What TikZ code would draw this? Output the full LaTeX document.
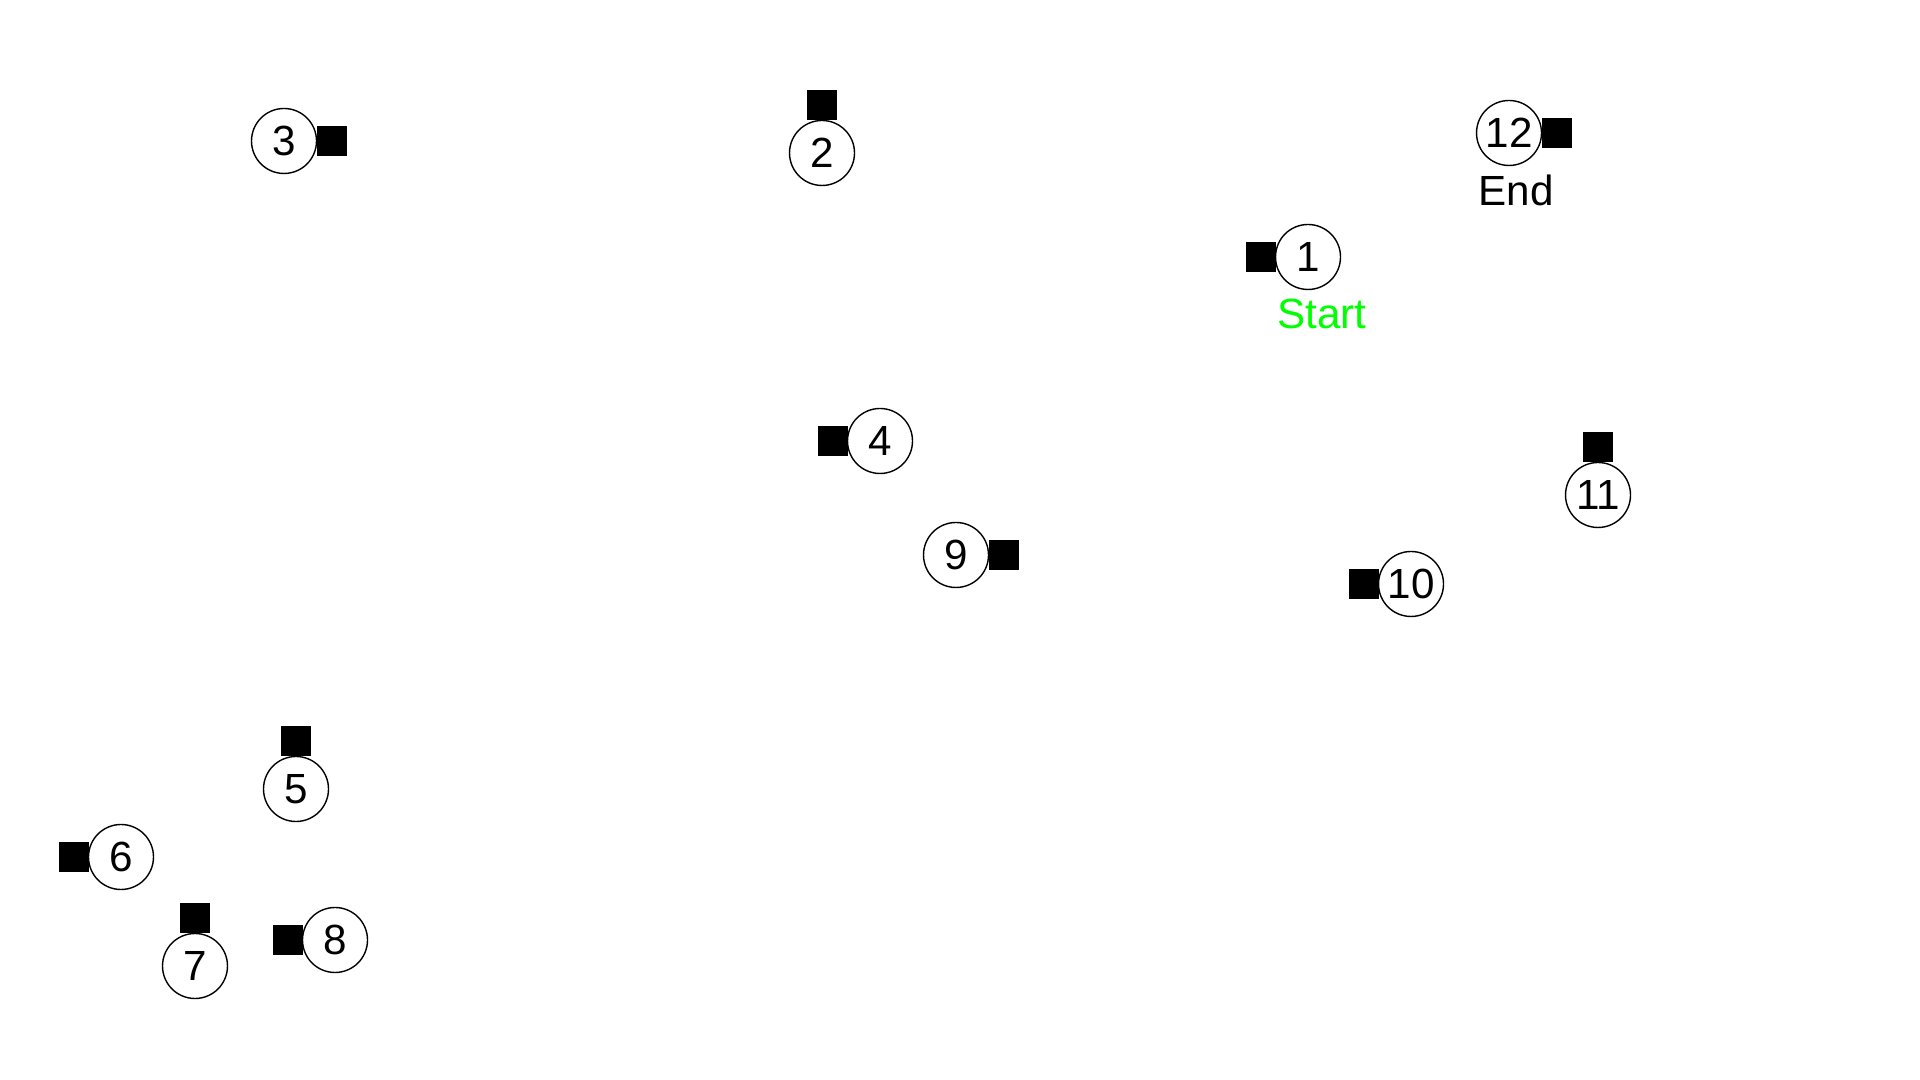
\documentclass[tikz,border=0pt]{standalone}
\usepackage{fontspec}
\setmainfont{Liberation Sans}
\usetikzlibrary{positioning}
\definecolor{startGreen}{RGB}{0,255,0}

\begin{document}
\begin{tikzpicture}[node distance=0pt]
\tikzstyle{stop}=[draw, circle, line width=0.4pt, inner sep=0pt, outer sep=0pt, minimum size=0.65cm, font=\fontsize{12pt}{14pt}\selectfont]
\tikzstyle{pad}=[fill=black, inner sep=0pt, outer sep=0pt, minimum size=0.30cm]
\tikzstyle{tag}=[inner sep=0pt, font=\fontsize{12pt}{14pt}\selectfont]
\useasboundingbox (0,0) rectangle (19.2,10.8);
% stops
\node[stop] (n1) at (13.08,8.23) {1};
\node[stop] (n2) at (8.22,9.27) {2};
\node[stop] (n3) at (2.84,9.39) {3};
\node[stop] (n4) at (8.80,6.39) {4};
\node[stop] (n5) at (2.96,2.91) {5};
\node[stop] (n6) at (1.21,2.23) {6};
\node[stop] (n7) at (1.95,1.14) {7};
\node[stop] (n8) at (3.35,1.40) {8};
\node[stop] (n9) at (9.56,5.25) {9};
\node[stop] (n10) at (14.11,4.96) {10};
\node[stop] (n11) at (15.98,5.85) {11};
\node[stop] (n12) at (15.09,9.47) {12};
% pads next to each stop
\node[pad, left=of n1] (p1) {};
\node[pad, above=of n2] (p2) {};
\node[pad, right=of n3] (p3) {};
\node[pad, left=of n4] (p4) {};
\node[pad, above=of n5] (p5) {};
\node[pad, left=of n6] (p6) {};
\node[pad, above=of n7] (p7) {};
\node[pad, left=of n8] (p8) {};
\node[pad, right=of n9] (p9) {};
\node[pad, left=of n10] (p10) {};
\node[pad, above=of n11] (p11) {};
\node[pad, right=of n12] (p12) {};
% labels
\node[tag, text=startGreen, below=0.09cm of n1, xshift=0.14cm] (start) {Start};
\node[tag, below=0.09cm of n12, xshift=0.07cm] (end) {End};
\end{tikzpicture}
\end{document}
